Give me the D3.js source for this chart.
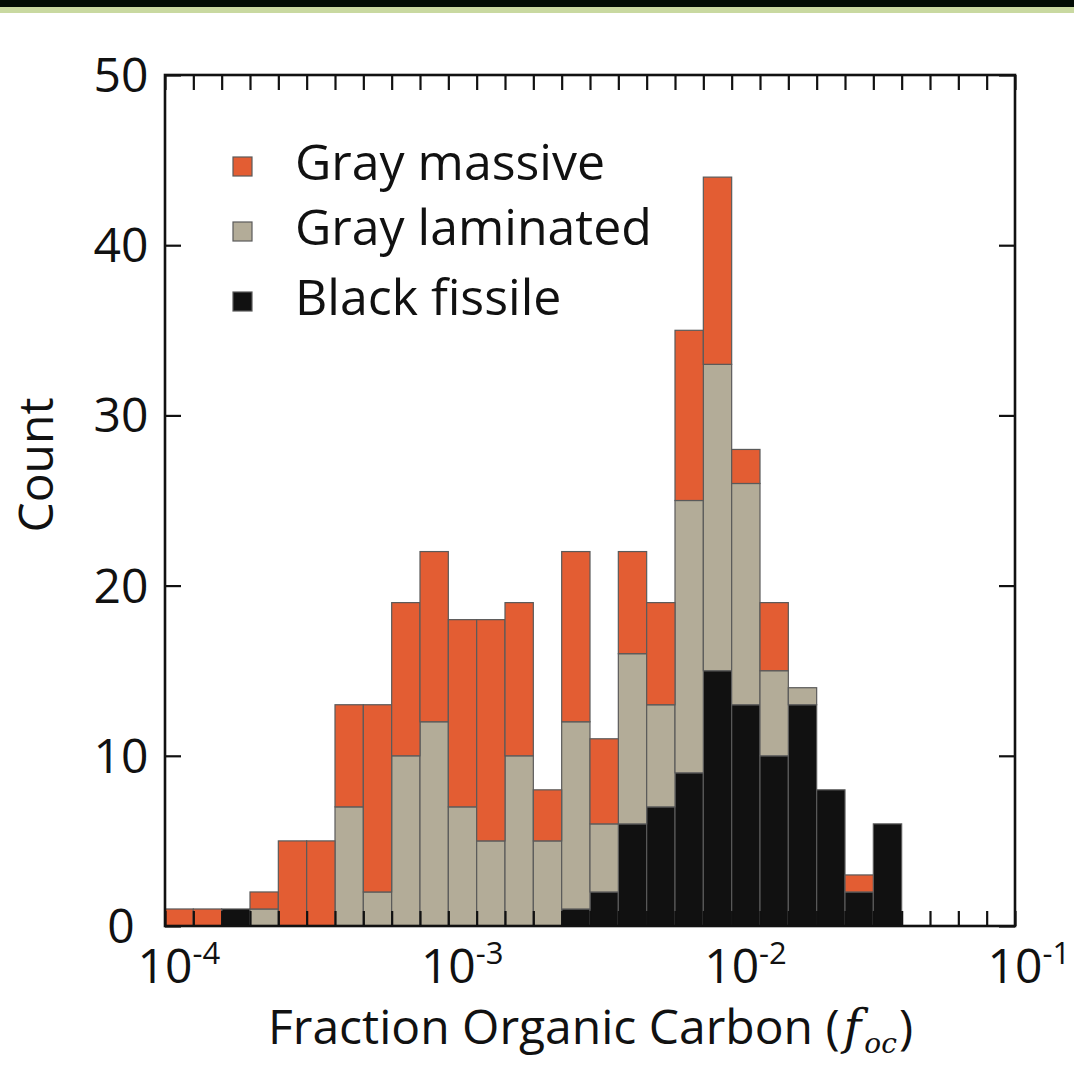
<!DOCTYPE html>
<html>
<head>
<meta charset="utf-8">
<script src="https://cdn.jsdelivr.net/npm/d3@7"></script>
<style>
  html, body { margin: 0; padding: 0; background: #fff; }
  svg { display: block; }
  text { font-family: "Open Sans", sans-serif; fill: #111; }
</style>
</head>
<body>
<svg id="chart" width="1074" height="1065"></svg>
<script>
// ---- data (counts per log bin, 10 bins per decade, from 1e-4 to 1e-1) ----
const binStartExp = -4;          // first bin starts at 10^-4
const binsPerDecade = 10;
const blackFissile    = [0,0,1,0,0,0,0,0,0,0,0,0,0,0,1,2,6,7,9,15,13,10,13,8,2,6,0,0,0,0];
const grayLaminated   = [0,0,0,1,0,0,7,2,10,12,7,5,10,5,11,4,10,6,16,18,13,5,1,0,0,0,0,0,0,0];
const grayMassive     = [1,1,0,1,5,5,6,11,9,10,11,13,9,3,10,5,6,6,10,11,2,4,0,0,1,0,0,0,0,0];
const seriesNames     = ["Black fissile", "Gray laminated", "Gray massive"];
const seriesColors    = ["#111111", "#b3ac98", "#e35d33"];
const legendOrder     = ["Gray massive", "Gray laminated", "Black fissile"];
const xTickExponents  = [-4, -3, -2, -1];
const yTickValues     = [0, 10, 20, 30, 40, 50];

const svg = d3.select("#chart");

// header bands
svg.append("rect").attr("x",0).attr("y",0).attr("width",1074).attr("height",7).attr("fill","#020c05");
svg.append("rect").attr("x",0).attr("y",7).attr("width",1074).attr("height",6).attr("fill","#c9d9a1");

const L = 165, R = 1015, T = 75, B = 926;
const x = d3.scaleLog().domain([1e-4, 1e-1]).range([L, R]);
const y = d3.scaleLinear().domain([0, 50]).range([B, T]);

const nBins = blackFissile.length;
const rows = d3.range(nBins).map(i => ({
  x0: Math.pow(10, binStartExp + i / binsPerDecade),
  x1: Math.pow(10, binStartExp + (i + 1) / binsPerDecade),
  "Black fissile": blackFissile[i],
  "Gray laminated": grayLaminated[i],
  "Gray massive": grayMassive[i]
}));
const stack = d3.stack().keys(seriesNames)(rows);

const gBars = svg.append("g");
stack.forEach((layer, si) => {
  gBars.selectAll(null)
    .data(layer.filter(d => d[1] - d[0] > 0))
    .join("rect")
    .attr("x", d => x(d.data.x0))
    .attr("width", d => x(d.data.x1) - x(d.data.x0))
    .attr("y", d => y(d[1]))
    .attr("height", d => y(d[0]) - y(d[1]))
    .attr("fill", seriesColors[si])
    .attr("stroke", "#5a5a5a")
    .attr("stroke-width", 1.2);
});

// axes: ticks inward
const edges = d3.range(nBins + 1).map(i => Math.pow(10, binStartExp + i / binsPerDecade));
const tickStyle = g => { g.select(".domain").remove(); g.selectAll("line").attr("stroke","#111").attr("stroke-width",2.2); g.selectAll("text").remove(); };
svg.append("g").attr("transform",`translate(0,${B})`)
  .call(d3.axisBottom(x).tickValues(edges).tickSize(-15).tickFormat(""))
  .call(tickStyle);
svg.append("g").attr("transform",`translate(0,${T})`)
  .call(d3.axisTop(x).tickValues(edges).tickSize(-15).tickFormat(""))
  .call(tickStyle);
svg.append("g").attr("transform",`translate(${L},0)`)
  .call(d3.axisLeft(y).tickValues(yTickValues).tickSize(-16).tickFormat(""))
  .call(tickStyle);
svg.append("g").attr("transform",`translate(${R},0)`)
  .call(d3.axisRight(y).tickValues(yTickValues).tickSize(-16).tickFormat(""))
  .call(tickStyle);

// frame
svg.append("rect").attr("x",L).attr("y",T).attr("width",R-L).attr("height",B-T)
  .attr("fill","none").attr("stroke","#111").attr("stroke-width",2.6);

// y tick labels
svg.append("g").selectAll("text").data(yTickValues).join("text")
  .attr("x", 121).attr("y", d => y(d) + 17)
  .attr("text-anchor","middle").attr("font-size", 48)
  .text(d => d);

// x tick labels with superscript exponent
xTickExponents.forEach(e => {
  const cx = x(Math.pow(10, e));
  const t = svg.append("text").attr("y", 983).attr("font-size", 48);
  t.append("tspan").text("10");
  t.append("tspan").attr("dy", -19).attr("font-size", 31).text("-" + Math.abs(e));
  const w10 = t.select("tspan").node().getComputedTextLength();
  t.attr("x", cx - w10 / 2);
});

// axis titles
svg.append("text")
  .attr("transform","translate(53,465) rotate(-90)")
  .attr("text-anchor","middle").attr("font-size", 48)
  .text("Count");

const xt = svg.append("text").attr("x", 268).attr("y", 1044).attr("font-size", 48);
xt.append("tspan").text("Fraction Organic Carbon (");
xt.append("tspan").attr("font-style","italic").attr("font-family","'DejaVu Serif', serif").attr("dx", 4).text("f");
xt.append("tspan").attr("font-style","italic").attr("font-family","'DejaVu Serif', serif").attr("font-size", 28).attr("dx", 3).attr("dy", 9).text("oc");
xt.append("tspan").attr("dy", -9).attr("dx", 2).text(")");

// legend
const legendRows = [167, 232, 302];
legendOrder.forEach((name, i) => {
  const col = seriesColors[seriesNames.indexOf(name)];
  svg.append("rect").attr("x", 233).attr("y", legendRows[i] - 10).attr("width", 19).attr("height", 19)
    .attr("fill", col).attr("stroke", "#5a5a5a").attr("stroke-width", 1.2);
  svg.append("text").attr("x", 295).attr("y", legendRows[i] + 13).attr("font-size", 50).text(name);
});
</script>
</body>
</html>
